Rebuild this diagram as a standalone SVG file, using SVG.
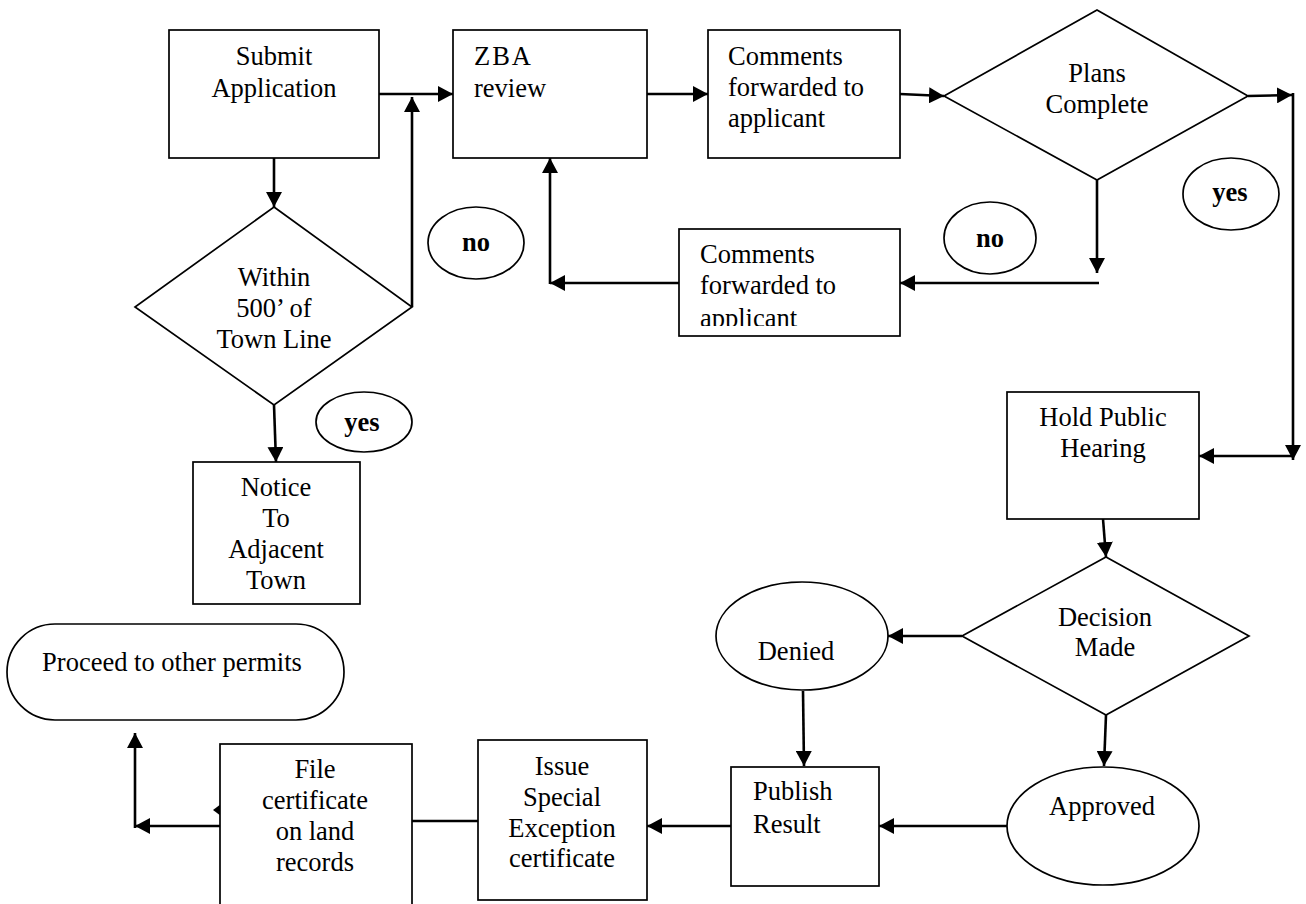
<svg xmlns="http://www.w3.org/2000/svg" width="1306" height="904" viewBox="0 0 1306 904">
  <style>
    .shape { fill: #ffffff; stroke: #000000; stroke-width: 1.7; }
    .conn { fill: none; stroke: #000000; stroke-width: 2.6; }
    .arrow { marker-end: url(#head); }
    text { font-family: "Liberation Serif", "Times New Roman", serif; font-size: 26.5px; fill: #000000; }
    .c { text-anchor: middle; }
    .b { font-weight: bold; }
  </style>
  <defs>
    <marker id="head" markerUnits="userSpaceOnUse" markerWidth="16" markerHeight="16" refX="15" refY="8" orient="auto">
      <path d="M0,0 L15,8 L0,16 z" fill="#000000"/>
    </marker>
    <clipPath id="clip-comments2">
      <rect x="679" y="229" width="221" height="97"/>
    </clipPath>
  </defs>

  <rect width="1306" height="904" fill="#ffffff"/>

  <!-- connectors -->
  <g id="connectors">
    <path class="conn arrow" d="M379,94 L453,94"/>
    <path class="conn arrow" d="M274,158 L274,207"/>
    <path class="conn arrow" d="M412,307 L412,97"/>
    <path class="conn arrow" d="M274,405 L276,462"/>
    <path class="conn arrow" d="M647,94 L708,94"/>
    <path class="conn arrow" d="M900,94 L944,96"/>
    <path class="conn arrow" d="M1248,96 L1292,95"/>
    <path class="conn arrow" d="M1293,93 L1293,460"/>
    <path class="conn arrow" d="M1293,456 L1199,456"/>
    <path class="conn arrow" d="M1097,180 L1097,273"/>
    <path class="conn arrow" d="M1099,283 L900,283"/>
    <path class="conn arrow" d="M679,283 L550,283"/>
    <path class="conn arrow" d="M550,284 L550,158"/>
    <path class="conn arrow" d="M1103,519 L1106,557"/>
    <path class="conn arrow" d="M962,636 L888,636"/>
    <path class="conn arrow" d="M1106,715 L1104,766"/>
    <path class="conn arrow" d="M803,691 L804,766"/>
    <path class="conn arrow" d="M1007,826 L879,826"/>
    <path class="conn arrow" d="M731,826 L647,826"/>
    <path class="conn" d="M478,821 L412,821"/>
    <path class="conn arrow" d="M220,826 L135,826"/>
    <path class="conn arrow" d="M135,828 L135,733"/>
    <polygon points="221,804 213,810 221,816" fill="#000000"/>
  </g>

  <g id="submit-application">
    <rect class="shape" x="169" y="30" width="210" height="128"/>
    <text class="c" x="274" y="65">Submit</text>
    <text class="c" x="274" y="97">Application</text>
  </g>

  <g id="zba-review">
    <rect class="shape" x="453" y="30" width="194" height="128"/>
    <text x="474" y="65" letter-spacing="2">ZBA</text>
    <text x="474" y="97">review</text>
  </g>

  <g id="comments-forwarded-1">
    <rect class="shape" x="708" y="30" width="192" height="128"/>
    <text x="728" y="65">Comments</text>
    <text x="728" y="96">forwarded to</text>
    <text x="728" y="127">applicant</text>
  </g>

  <g id="plans-complete">
    <polygon class="shape" points="1097,10 1248,96 1097,180 944,96"/>
    <text class="c" x="1097" y="82">Plans</text>
    <text class="c" x="1097" y="113">Complete</text>
  </g>

  <g id="within-500">
    <polygon class="shape" points="274,207 412,307 274,405 135,307"/>
    <text class="c" x="274" y="286">Within</text>
    <text class="c" x="274" y="317">500’ of</text>
    <text class="c" x="274" y="348">Town Line</text>
  </g>

  <g id="label-no-left">
    <ellipse class="shape" cx="476" cy="243" rx="48" ry="36"/>
    <text class="c b" x="476" y="251">no</text>
  </g>

  <g id="comments-forwarded-2">
    <rect class="shape" x="679" y="229" width="221" height="107"/>
    <g clip-path="url(#clip-comments2)">
      <text x="700" y="263">Comments</text>
      <text x="700" y="294">forwarded to</text>
      <text x="700" y="327">applicant</text>
    </g>
  </g>

  <g id="label-no-right">
    <ellipse class="shape" cx="990" cy="238" rx="46" ry="36"/>
    <text class="c b" x="990" y="247">no</text>
  </g>

  <g id="label-yes-right">
    <ellipse class="shape" cx="1231" cy="194" rx="48" ry="36"/>
    <text class="c b" x="1230" y="201">yes</text>
  </g>

  <g id="label-yes-left">
    <ellipse class="shape" cx="364" cy="422" rx="48" ry="30"/>
    <text class="c b" x="362" y="431">yes</text>
  </g>

  <g id="notice-adjacent-town">
    <rect class="shape" x="193" y="462" width="167" height="142"/>
    <text class="c" x="276" y="496">Notice</text>
    <text class="c" x="276" y="527">To</text>
    <text class="c" x="276" y="558">Adjacent</text>
    <text class="c" x="276" y="589">Town</text>
  </g>

  <g id="hold-public-hearing">
    <rect class="shape" x="1007" y="392" width="192" height="127"/>
    <text class="c" x="1103" y="426">Hold Public</text>
    <text class="c" x="1103" y="457">Hearing</text>
  </g>

  <g id="decision-made">
    <polygon class="shape" points="1106,557 1249,636 1106,715 962,636"/>
    <text class="c" x="1105" y="626">Decision</text>
    <text class="c" x="1105" y="656">Made</text>
  </g>

  <g id="denied">
    <ellipse class="shape" cx="802" cy="636" rx="86" ry="54"/>
    <text class="c" x="796" y="660">Denied</text>
  </g>

  <g id="approved">
    <ellipse class="shape" cx="1103" cy="826" rx="96" ry="59"/>
    <text class="c" x="1102" y="815">Approved</text>
  </g>

  <g id="publish-result">
    <rect class="shape" x="731" y="767" width="148" height="119"/>
    <text x="753" y="800">Publish</text>
    <text x="753" y="833">Result</text>
  </g>

  <g id="issue-certificate">
    <rect class="shape" x="478" y="740" width="169" height="160"/>
    <text class="c" x="562" y="775">Issue</text>
    <text class="c" x="562" y="806">Special</text>
    <text class="c" x="562" y="837">Exception</text>
    <text class="c" x="562" y="867">certificate</text>
  </g>

  <g id="file-certificate">
    <rect class="shape" x="220" y="744" width="192" height="175"/>
    <text class="c" x="315" y="778">File</text>
    <text class="c" x="315" y="809">certificate</text>
    <text class="c" x="315" y="840">on land</text>
    <text class="c" x="315" y="871">records</text>
  </g>

  <g id="proceed-other-permits">
    <rect class="shape" x="7" y="624" width="337" height="96" rx="48" ry="48"/>
    <text class="c" x="172" y="671">Proceed to other permits</text>
  </g>
</svg>
